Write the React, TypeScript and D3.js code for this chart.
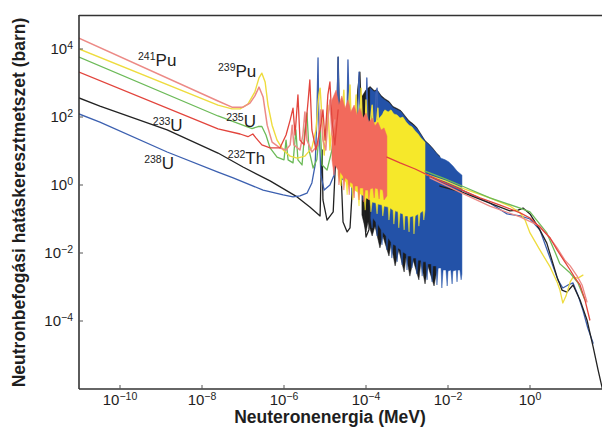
import React from "react";
import * as d3 from "d3";

// Every point is [log10(E / MeV), log10(sigma / barn)]
type P = [number, number];

const xTickExps = [-10, -8, -6, -4, -2, 0];
const yTickExps = [4, 2, 0, -2, -4];

const xTitle = "Neuteronenergia (MeV)";
const yTitle = "Neutronbefogási hatáskeresztmetszet (barn)";

// ---- 241Pu
const pu241: P[] = [
  [-11, 4.32], [-7.61, 2.47], [-7.27, 2.29], [-7.0, 2.29], [-6.83, 2.41], [-6.71, 2.62],
  [-6.61, 2.88], [-6.51, 2.59], [-6.41, 1.76], [-6.29, 1.26], [-6.1, 1.09], [-5.95, 1.03],
  [-5.85, 1.18], [-5.8, 1.76], [-5.76, 1.18], [-5.61, 1.03], [-5.54, 1.47], [-5.49, 2.15],
  [-5.44, 1.32], [-5.32, 0.97], [-5.17, 1.18], [-5.1, 2.21], [-5.05, 1.32], [-4.98, 1.03],
  [-4.93, 1.91], [-4.88, 2.5], [-4.83, 1.47], [-4.76, 1.91],
];
const pu241Fast: P[] = [
  [-2.44, 0.21], [-1.66, -0.24], [-0.98, -0.62], [-0.24, -0.94], [0.24, -1.21], [0.49, -1.56],
  [0.66, -1.85], [0.85, -2.21], [0.98, -2.38], [1.15, -2.68], [1.27, -2.94], [1.39, -3.44],
];

// ---- 239Pu
const pu239: P[] = [
  [-11, 4.0], [-7.61, 2.35], [-7.27, 2.24], [-7.07, 2.24], [-6.88, 2.38], [-6.71, 2.74],
  [-6.61, 3.15], [-6.54, 3.29], [-6.46, 3.03], [-6.39, 2.35], [-6.29, 1.76], [-6.17, 1.32],
  [-6.02, 1.03], [-5.85, 0.85], [-5.68, 0.79], [-5.49, 0.85], [-5.32, 1.09], [-5.22, 1.62],
  [-5.15, 2.65], [-5.12, 2.85], [-5.1, 2.5], [-5.02, 0.88], [-4.95, 1.91], [-4.93, 2.35],
  [-4.88, 1.03], [-4.8, 2.21], [-4.78, 2.5], [-4.73, 0.88], [-4.68, 1.91], [-4.63, 0.74],
  [-4.59, 1.91], [-4.54, 2.79], [-4.49, 1.03], [-4.44, 1.91], [-4.39, 2.94], [-4.34, 1.03],
  [-4.29, 1.62], [-4.24, 2.65], [-4.2, 0.88], [-4.15, 1.91], [-4.12, 2.85], [-4.07, 1.03],
  [-4.02, 1.62], [-4.0, 2.5], [-3.95, 1.03], [-3.9, 1.76], [-3.85, 2.35], [-3.8, 1.03],
  [-3.76, 1.62], [-3.71, 2.26], [-3.66, 1.03], [-3.61, 1.76], [-3.56, 2.15], [-3.51, 1.03],
];
const pu239BandTop: P[] = [
  [-4.68, 1.91], [-4.51, 1.97], [-4.34, 1.91], [-4.15, 1.85], [-3.95, 1.76], [-3.76, 1.85],
  [-3.61, 2.06], [-3.54, 2.21], [-3.46, 2.15], [-3.39, 2.21], [-3.32, 2.09], [-3.24, 2.06],
  [-3.17, 1.97], [-3.1, 2.0], [-3.02, 1.85], [-2.95, 1.76], [-2.88, 1.71], [-2.8, 1.59],
  [-2.73, 1.5], [-2.66, 1.38], [-2.56, 1.26],
];
const pu239BandBottom: P[] = [
  [-4.68, 0.29], [-4.61, -0.03], [-4.59, 0.21], [-4.49, 0.09], [-4.46, -0.29], [-4.44, 0.03],
  [-4.34, -0.09], [-4.32, -0.44], [-4.29, -0.15], [-4.2, -0.21], [-4.17, -0.62], [-4.15, -0.26],
  [-4.05, -0.32], [-4.02, -0.74], [-4.0, -0.38], [-3.9, -0.44], [-3.88, -0.79], [-3.85, -0.5],
  [-3.76, -0.53], [-3.73, -0.85], [-3.71, -0.56], [-3.61, -0.59], [-3.59, -0.91], [-3.56, -0.62],
  [-3.46, -0.65], [-3.44, -1.03], [-3.41, -0.68], [-3.34, -0.74], [-3.32, -1.15], [-3.29, -0.76],
  [-3.22, -0.79], [-3.2, -1.26], [-3.17, -0.82], [-3.1, -0.85], [-3.07, -1.32], [-3.05, -0.91],
  [-2.98, -0.91], [-2.95, -1.38], [-2.93, -0.94], [-2.85, -0.91], [-2.83, -1.44], [-2.8, -0.91],
  [-2.73, -0.85], [-2.71, -1.21], [-2.68, -0.82], [-2.61, -0.76], [-2.59, -1.03], [-2.56, -0.74],
];
const pu239Fast: P[] = [
  [-2.56, 0.32], [-2.07, 0.12], [-1.66, -0.09], [-0.98, -0.38], [-0.49, -0.62], [-0.24, -0.82],
  [-0.12, -1.03], [0.0, -1.41], [0.24, -1.91], [0.49, -2.41], [0.66, -2.85], [0.73, -3.09],
  [0.8, -3.47], [0.88, -3.26], [0.98, -2.85], [1.05, -2.71], [1.17, -2.74], [1.29, -2.65],
];

// ---- 235U
const u235: P[] = [
  [-11, 3.76], [-7.61, 2.03], [-7.07, 1.79], [-6.78, 1.66], [-6.63, 1.72], [-6.54, 1.72],
  [-6.44, 1.47], [-6.34, 1.09], [-6.17, 0.82], [-6.0, 0.74], [-5.95, 1.32], [-5.9, 0.74],
  [-5.78, 0.65], [-5.71, 1.62], [-5.66, 0.74], [-5.56, 0.59], [-5.49, 1.62], [-5.44, 2.12],
  [-5.39, 1.03], [-5.29, 0.5], [-5.2, 0.74], [-5.12, 1.76], [-5.07, 0.59], [-4.95, 0.44],
  [-4.83, 1.03], [-4.76, 1.91], [-4.71, 2.29], [-4.66, 1.03], [-4.59, 0.44], [-4.49, 1.32],
  [-4.41, 2.21], [-4.37, 1.03], [-4.27, 0.44], [-4.2, 1.91], [-4.15, 2.35], [-4.1, 0.74],
  [-4.0, 0.29], [-3.9, 1.62], [-3.85, 2.06], [-3.8, 0.74], [-3.71, 0.38],
];
const u235Fast: P[] = [
  [-2.56, 0.41], [-2.07, 0.18], [-1.66, -0.03], [-0.98, -0.38], [-0.24, -0.68], [0.0, -0.79],
  [0.24, -1.15], [0.41, -1.41], [0.61, -1.97], [0.73, -2.32], [0.98, -2.59], [1.17, -2.88],
  [1.34, -3.38],
];

// ---- 233U
const u233: P[] = [
  [-11, 3.32], [-7.61, 1.65], [-7.07, 1.5], [-6.88, 1.42], [-6.76, 1.5], [-6.68, 1.38],
  [-6.54, 1.18], [-6.34, 1.09], [-6.1, 1.09], [-5.95, 1.47], [-5.85, 1.91], [-5.78, 2.26],
  [-5.73, 1.47], [-5.66, 2.65], [-5.61, 1.32], [-5.51, 1.18], [-5.41, 2.5], [-5.37, 3.09],
  [-5.32, 1.62], [-5.22, 1.03], [-5.12, 1.62], [-5.05, 2.21], [-5.0, 1.32], [-4.93, 2.65],
  [-4.88, 3.03], [-4.83, 1.91], [-4.76, 1.18], [-4.68, 2.21],
];
const u233BandTop: P[] = [
  [-4.83, 2.5], [-4.73, 2.79], [-4.66, 2.35], [-4.59, 2.62], [-4.51, 2.26], [-4.44, 2.5],
  [-4.37, 2.15], [-4.29, 2.35], [-4.22, 2.06], [-4.15, 2.26], [-4.07, 1.97], [-4.0, 2.12],
  [-3.93, 1.85], [-3.85, 1.97], [-3.78, 1.74], [-3.71, 1.85], [-3.63, 1.62], [-3.56, 1.68],
  [-3.49, 1.44],
];
const u233BandBottom: P[] = [
  [-4.83, 0.74], [-4.78, 0.29], [-4.76, 0.59], [-4.68, 0.44], [-4.66, 0.0], [-4.63, 0.38],
  [-4.56, 0.26], [-4.54, -0.15], [-4.51, 0.21], [-4.44, 0.15], [-4.41, -0.29], [-4.39, 0.09],
  [-4.32, 0.03], [-4.29, -0.38], [-4.27, -0.03], [-4.2, -0.03], [-4.17, -0.44], [-4.15, -0.09],
  [-4.07, -0.09], [-4.05, -0.5], [-4.02, -0.15], [-3.95, -0.15], [-3.93, -0.44], [-3.9, -0.12],
  [-3.83, -0.09], [-3.8, -0.38], [-3.78, -0.09], [-3.71, -0.12], [-3.68, -0.41], [-3.66, -0.12],
  [-3.59, -0.15], [-3.56, -0.44], [-3.49, -0.32],
];
const u233Fast: P[] = [
  [-3.49, 0.82], [-3.17, 0.65], [-2.8, 0.47], [-2.44, 0.26], [-2.07, 0.06], [-1.66, -0.15],
  [-1.22, -0.38], [-0.73, -0.59], [-0.24, -0.82], [0.0, -0.97], [0.24, -1.24], [0.49, -1.56],
  [0.66, -1.91], [0.85, -2.26], [0.98, -2.5], [1.1, -2.74], [1.22, -2.94], [1.34, -3.38],
  [1.46, -3.97],
];

// ---- 232Th
const th232: P[] = [
  [-11, 2.56], [-10.49, 2.32], [-8.85, 1.62], [-7.61, 0.94], [-7.0, 0.53], [-6.34, 0.12],
  [-5.68, -0.35], [-5.37, -0.65], [-5.12, -0.91], [-5.1, 0.15], [-5.07, 1.03], [-5.05, -0.44],
  [-4.95, -1.03], [-4.8, -0.79], [-4.73, 1.03], [-4.68, 3.76], [-4.63, 1.03], [-4.56, -1.09],
  [-4.46, -1.38], [-4.39, -1.26], [-4.32, 0.15], [-4.24, 1.91], [-4.2, 2.79], [-4.15, 3.32],
  [-4.12, 2.21], [-4.07, -0.44], [-4.0, -1.53], [-3.93, -1.32], [-3.85, 0.15], [-3.78, 1.03],
];
const th232BandTop: P[] = [
  [-4.1, 2.6], [-4.0, 2.8], [-3.9, 2.9], [-3.8, 2.78], [-3.73, 2.8], [-3.63, 2.63],
  [-3.54, 2.54], [-3.44, 2.46], [-3.34, 2.31], [-3.24, 2.25], [-3.15, 2.19], [-3.05, 2.04],
  [-2.95, 1.89], [-2.85, 1.8], [-2.76, 1.69], [-2.66, 1.5], [-2.56, 1.31], [-2.46, 1.2],
  [-2.37, 1.08], [-2.27, 0.93], [-2.2, 0.85],
];
const th232BandBottom: P[] = [
  [-4.1, -0.88], [-4.0, -1.38], [-3.95, -1.09], [-3.85, -1.5], [-3.78, -1.21], [-3.66, -1.85],
  [-3.59, -1.5], [-3.44, -2.09], [-3.39, -1.74], [-3.29, -2.38], [-3.2, -1.91], [-3.07, -2.56],
  [-3.02, -2.09], [-2.93, -2.68], [-2.85, -2.21], [-2.71, -2.79], [-2.66, -2.26], [-2.56, -2.91],
  [-2.49, -2.38], [-2.34, -2.97], [-2.27, -2.5], [-2.2, -2.35],
];
const th232Fast: P[] = [
  [-2.2, -0.03], [-1.66, -0.21], [-0.98, -0.53], [-0.49, -0.76], [-0.29, -0.74], [-0.17, -0.68],
  [0.0, -0.85], [0.24, -1.32], [0.41, -1.71], [0.66, -2.71], [0.78, -3.09], [0.9, -3.15],
  [1.05, -2.94], [1.22, -3.38], [1.39, -3.97], [1.54, -4.76], [1.66, -5.44], [1.76, -5.97],
  [1.85, -6.32],
];

// ---- 238U
const u238: P[] = [
  [-11, 2.09], [-10.49, 1.85], [-8.85, 0.97], [-7.61, 0.38], [-7.24, 0.21], [-6.51, -0.15],
  [-6.02, -0.29], [-5.78, -0.35], [-5.61, -0.32], [-5.44, -0.24], [-5.32, 0.06], [-5.24, 0.59],
  [-5.2, 1.91], [-5.17, 3.74], [-5.15, 1.91], [-5.1, 0.29], [-5.02, -0.15], [-4.88, 0.0],
  [-4.78, 0.29], [-4.71, 1.91], [-4.68, 3.76], [-4.66, 1.91], [-4.59, 0.15], [-4.51, 0.29],
  [-4.46, 2.21], [-4.44, 3.68], [-4.41, 2.21], [-4.34, -0.29], [-4.27, 0.0], [-4.2, 2.21],
  [-4.17, 3.32], [-4.15, 2.21], [-4.07, -0.44], [-4.0, 1.91], [-3.98, 3.15], [-3.95, 1.91],
  [-3.88, -0.59], [-3.8, 1.03], [-3.76, 2.65], [-3.73, 2.85], [-3.71, 1.03],
];
const u238BandTop: P[] = [
  [-3.9, 2.85], [-3.8, 2.74], [-3.73, 2.79], [-3.63, 2.59], [-3.54, 2.5], [-3.44, 2.42],
  [-3.34, 2.27], [-3.24, 2.21], [-3.15, 2.16], [-3.05, 2.0], [-2.95, 1.85], [-2.85, 1.76],
  [-2.76, 1.66], [-2.66, 1.47], [-2.56, 1.28], [-2.46, 1.18], [-2.37, 1.06], [-2.27, 0.91],
  [-2.17, 0.79], [-2.07, 0.74], [-1.98, 0.68], [-1.88, 0.56], [-1.78, 0.41], [-1.66, 0.29],
];
const u238BandBottom: P[] = [
  [-3.9, -0.88], [-3.85, -1.27], [-3.83, -0.97], [-3.76, -1.09], [-3.73, -1.5], [-3.71, -1.15],
  [-3.63, -1.32], [-3.61, -1.76], [-3.59, -1.38], [-3.51, -1.5], [-3.49, -1.91], [-3.46, -1.56],
  [-3.39, -1.68], [-3.37, -2.15], [-3.34, -1.74], [-3.27, -1.79], [-3.24, -2.26], [-3.22, -1.85],
  [-3.15, -1.91], [-3.12, -2.35], [-3.1, -1.97], [-3.02, -2.03], [-3.0, -2.5], [-2.98, -2.09],
  [-2.9, -2.09], [-2.88, -2.44], [-2.85, -2.15], [-2.78, -2.15], [-2.76, -2.62], [-2.73, -2.21],
  [-2.66, -2.21], [-2.63, -2.68], [-2.61, -2.26], [-2.54, -2.26], [-2.51, -2.79], [-2.49, -2.32],
  [-2.41, -2.32], [-2.39, -2.85], [-2.37, -2.38], [-2.29, -2.38], [-2.27, -2.94], [-2.24, -2.44],
  [-2.17, -2.44], [-2.15, -3.03], [-2.12, -2.5], [-2.05, -2.5], [-2.02, -2.97], [-2.0, -2.53],
  [-1.93, -2.5], [-1.9, -2.91], [-1.88, -2.53], [-1.8, -2.5], [-1.78, -2.85], [-1.76, -2.5],
  [-1.71, -2.5], [-1.68, -2.79], [-1.66, -2.62],
];
const u238Fast: P[] = [
  [-1.66, -0.15], [-0.98, -0.53], [-0.56, -0.85], [-0.24, -0.91], [0.0, -1.0], [0.24, -1.32],
  [0.49, -2.15], [0.68, -2.79], [0.8, -3.03], [0.93, -2.94], [1.05, -2.88], [1.17, -3.24],
  [1.29, -3.68], [1.41, -4.21], [1.54, -4.65],
];

// Curve labels: [mass number, element, log10 E, log10 sigma] of the label baseline start
const nuclideLabels: [string, string, number, number][] = [
  ["241", "Pu", -9.56, 3.5],
  ["239", "Pu", -7.61, 3.18],
  ["235", "U", -7.41, 1.71],
  ["233", "U", -9.2, 1.59],
  ["238", "U", -9.41, 0.47],
  ["232", "Th", -7.37, 0.62],
];

const W = 602;
const H = 431;
const L = 79;
const T = 15;
const Bt = 389;

const x = d3.scaleLog().domain([1e-11, 1e2]).range([L, 612]);
const y = d3.scaleLog().domain([1e-6, 1e5]).range([Bt, T]);
const px = (v: number) => x(Math.pow(10, v));
const py = (v: number) => y(Math.pow(10, v));

const line = d3.line<P>().x((d) => px(d[0])).y((d) => py(d[1]));
const band = (top: P[], bottom: P[]) => (line([...top, ...bottom.slice().reverse()]) || "") + "Z";

const C = {
  pu241: "#ec8a86",
  pu239: "#eedc3e",
  pu239Band: "#f6e82a",
  u235: "#6cba58",
  u233: "#e2443c",
  u233Band: "#f26a5c",
  th232: "#222222",
  u238: "#3c60b0",
  u238Band: "#2352a8",
};

type Layer = { kind: "line" | "band"; data: P[]; data2?: P[]; color: string; w?: number };
const layers: Layer[] = [
  { kind: "band", data: th232BandTop, data2: th232BandBottom, color: "#1c1c1c" },
  { kind: "band", data: u238BandTop, data2: u238BandBottom, color: C.u238Band },
  { kind: "line", data: th232, color: C.th232, w: 1.3 },
  { kind: "line", data: u238, color: C.u238, w: 1.3 },
  { kind: "line", data: u235, color: C.u235, w: 1.3 },
  { kind: "line", data: pu239, color: C.pu239, w: 1.4 },
  { kind: "band", data: pu239BandTop, data2: pu239BandBottom, color: C.pu239Band },
  { kind: "band", data: u233BandTop, data2: u233BandBottom, color: C.u233Band },
  { kind: "line", data: pu241, color: C.pu241, w: 1.5 },
  { kind: "line", data: u233, color: C.u233, w: 1.3 },
  { kind: "line", data: u238Fast, color: C.u238, w: 1.3 },
  { kind: "line", data: th232Fast, color: C.th232, w: 1.3 },
  { kind: "line", data: pu239Fast, color: C.pu239, w: 1.3 },
  { kind: "line", data: u235Fast, color: C.u235, w: 1.3 },
  { kind: "line", data: pu241Fast, color: C.pu241, w: 1.3 },
  { kind: "line", data: u233Fast, color: C.u233, w: 1.3 },
];

const FONT = "'Liberation Sans', Arial, Helvetica, sans-serif";
const TXT = "#1e1e1e";

export default function App() {
  return (
    <svg
      width={W}
      height={H}
      viewBox={`0 0 ${W} ${H}`}
      style={{ position: "absolute", left: 0, top: 0, background: "#fff" }}
      fontFamily={FONT}
    >
      <defs>
        <clipPath id="plotClip">
          <rect x={L} y={T} width={612 - L} height={Bt - T} />
        </clipPath>
      </defs>
      <rect x={0} y={0} width={W} height={H} fill="#fff" />

      <g clipPath="url(#plotClip)">
        {layers.map((ly, i) =>
          ly.kind === "band" ? (
            <path
              key={i}
              d={band(ly.data, ly.data2 || [])}
              fill={ly.color}
              stroke={ly.color}
              strokeWidth={0.5}
              strokeLinejoin="round"
            />
          ) : (
            <path
              key={i}
              d={line(ly.data) || ""}
              fill="none"
              stroke={ly.color}
              strokeWidth={ly.w}
              strokeLinejoin="round"
              strokeLinecap="round"
            />
          )
        )}
      </g>

      {/* frame */}
      <line x1={L} x2={W} y1={T + 0.5} y2={T + 0.5} stroke="#333" strokeWidth={1.6} />
      <line x1={L} x2={L} y1={T} y2={Bt} stroke="#333" strokeWidth={1.6} />
      <line x1={L} x2={W} y1={Bt} y2={Bt} stroke="#333" strokeWidth={1.6} />

      {/* x ticks */}
      {xTickExps.map((e) => (
        <g key={"x" + e}>
          <line x1={x(Math.pow(10, e))} x2={x(Math.pow(10, e))} y1={Bt} y2={Bt - 4} stroke="#555" strokeWidth={1} />
          <text x={x(Math.pow(10, e))} y={405} textAnchor="middle" fontSize={15} fill={TXT}>
            10
            <tspan fontSize={10.5} dy={-5}>
              {e < 0 ? "\u2212" + Math.abs(e) : String(e)}
            </tspan>
          </text>
        </g>
      ))}

      {/* y ticks */}
      {yTickExps.map((e) => (
        <g key={"y" + e}>
          <line x1={L} x2={L + 4} y1={y(Math.pow(10, e))} y2={y(Math.pow(10, e))} stroke="#555" strokeWidth={1} />
          <text x={73} y={y(Math.pow(10, e)) + 5} textAnchor="end" fontSize={15} fill={TXT}>
            10
            <tspan fontSize={10.5} dy={-5}>
              {e < 0 ? "\u2212" + Math.abs(e) : String(e)}
            </tspan>
          </text>
        </g>
      ))}

      {/* curve labels */}
      {nuclideLabels.map(([a, el, le, ls]) => (
        <text key={a + el} x={px(le)} y={py(ls)} fill={TXT}>
          <tspan fontSize={10.5} dy={-6}>
            {a}
          </tspan>
          <tspan fontSize={17} dy={6}>
            {el}
          </tspan>
        </text>
      ))}

      {/* axis titles */}
      <text x={330} y={423} textAnchor="middle" fontSize={17.5} fontWeight="bold" fill={TXT}>
        {xTitle}
      </text>
      <text
        transform={`translate(24.5, 202.5) rotate(-90)`}
        textAnchor="middle"
        fontSize={17.5}
        fontWeight="bold"
        fill={TXT}
      >
        {yTitle}
      </text>
    </svg>
  );
}
